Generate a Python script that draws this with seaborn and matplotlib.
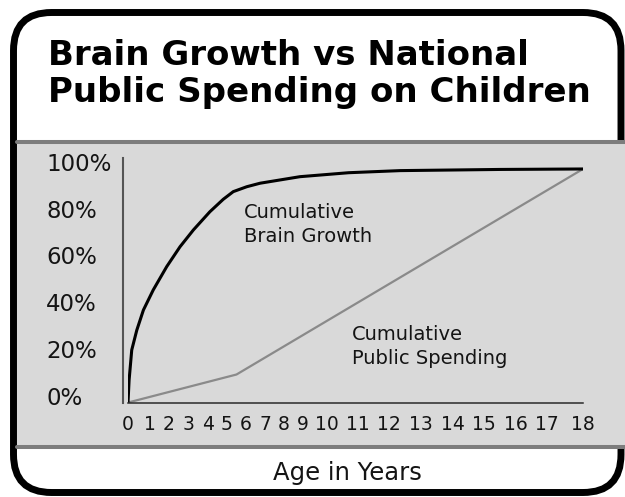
import numpy as np
import matplotlib
matplotlib.use("Agg")
import matplotlib.pyplot as plt
import matplotlib.transforms as mtransforms
from matplotlib.patches import FancyBboxPatch, Rectangle
from matplotlib.lines import Line2D
import seaborn as sns

# Cumulative brain growth (% of adult brain size) by age in years
brain_age = [0, 0.05, 0.17, 0.4, 0.7, 1.17, 1.88, 2.58, 3.27, 4.1, 4.8, 5.33,
             6.04, 6.74, 8.84, 10.7, 12.35, 15.5, 18]
brain_pct = [0, 9.6, 22.5, 31, 39.6, 48.2, 58.2, 66.7, 73.9, 81.7, 87, 90.3,
             92.4, 93.9, 96.7, 98.4, 99.3, 99.8, 100]

# Cumulative national public spending on children (% of total through age 18)
spend_age = [0, 5.5, 18]
spend_pct = [0, 12, 100]

ages = list(range(19))
age_labels = [str(a) for a in ages]
pct_ticks = [0, 20, 40, 60, 80, 100]
pct_labels = [f"{p}%" for p in pct_ticks]

# Horizontal layout of the age axis: single-digit ages sit closer together
age_axis_px = [128, 150, 169, 188, 208, 227, 246, 265, 284, 303,
               327, 358, 389, 421, 453, 484, 516, 547, 583]

W, H, DPI = 625, 497, 100
sns.set_theme(style="white")
plt.rcParams["font.family"] = ["DejaVu Sans"]

fig = plt.figure(figsize=(W / DPI, H / DPI), dpi=DPI)
fig.patch.set_facecolor("white")
px = mtransforms.Affine2D().scale(1 / W, 1 / H) + fig.transFigure


def fy(y):
    return H - y


# rounded black frame
fig.add_artist(FancyBboxPatch((13.5, fy(492.5)), 607.5, 480,
                              boxstyle="round,pad=0,rounding_size=38",
                              transform=px, facecolor="none",
                              edgecolor="black", lw=5.0, zorder=0.4))

# grey plotting panel with its two separator rules
panel_top, panel_bot = 142, 446.5
fig.add_artist(Rectangle((17, fy(panel_bot)), 608, panel_bot - panel_top,
                         transform=px, facecolor="#d9d9d9", edgecolor="none",
                         zorder=0.5))
for yy in (panel_top, panel_bot):
    fig.add_artist(Line2D([17, 625], [fy(yy), fy(yy)], transform=px,
                          color="#7d7d7d", lw=2.9, zorder=0.6))

# title (baseline given for the last line)
fig.text(48, fy(102), "Brain Growth vs National\nPublic Spending on Children",
         transform=px, ha="left", va="baseline", fontsize=24.5,
         fontweight="bold", color="black", linespacing=1.15)

ax = fig.add_axes([128 / W, (H - 403) / H, (583 - 128) / W, (403 - 158) / H])
ax.set_facecolor("none")
ax.set_zorder(5)

sns.lineplot(x=spend_age, y=spend_pct, ax=ax, color="#8a8a8a", lw=1.6,
             estimator=None)
sns.lineplot(x=brain_age, y=brain_pct, ax=ax, color="black", lw=2.2,
             estimator=None)

fwd = lambda a: np.interp(a, ages, age_axis_px)
inv = lambda p: np.interp(p, age_axis_px, ages)
ax.set_xscale("function", functions=(fwd, inv))
ax.set_xlim(0, 18)
ax.set_ylim(-0.2, 104.7)

for side in ("top", "right"):
    ax.spines[side].set_visible(False)
ax.spines["left"].set_position(("outward", 3.6))
ax.spines["left"].set_color("#555555")
ax.spines["left"].set_linewidth(1.5)
ax.spines["bottom"].set_color("#2a2a2a")
ax.spines["bottom"].set_linewidth(1.1)

ax.set_xticks(ages, age_labels)
ax.set_yticks(pct_ticks, pct_labels)
ax.minorticks_off()
ax.tick_params(axis="x", length=0, pad=9, labelsize=13.5, colors="#141414")
ax.tick_params(axis="y", length=0, pad=55.4, labelsize=16.5, colors="#141414")
shift = mtransforms.ScaledTranslation(0, 7 / DPI, fig.dpi_scale_trans)
for t in ax.yaxis.get_major_ticks():
    t.label1.set_horizontalalignment("left")
    t.label1.set_transform(t.label1.get_transform() + shift)
ax.set_xlabel("")
ax.set_ylabel("")

# curve labels (baseline given for the second line)
ax.text(5.9, 68.7, "Cumulative\nBrain Growth", ha="left", va="baseline",
        fontsize=14, color="#141414", linespacing=1.35)
ax.text(10.8, 16.5, "Cumulative\nPublic Spending", ha="left", va="baseline",
        fontsize=14, color="#141414", linespacing=1.3)

fig.text(347, fy(480), "Age in Years", transform=px, ha="center",
         va="baseline", fontsize=17.5, color="#141414")

fig.savefig("out.png", dpi=DPI)
